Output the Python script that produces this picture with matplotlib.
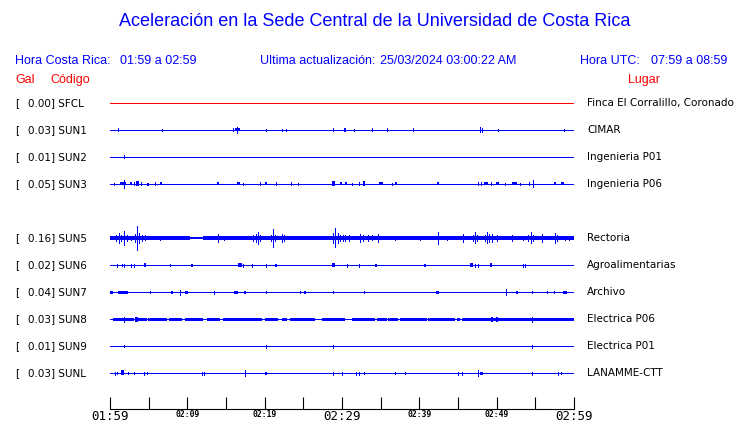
import matplotlib
matplotlib.use('Agg')
import matplotlib.pyplot as plt
from matplotlib import transforms

# stations (SUN4 has no trace, its slot stays empty)
codes = ['SFCL', 'SUN1', 'SUN2', 'SUN3', 'SUN5', 'SUN6', 'SUN7', 'SUN8', 'SUN9', 'SUNL']
gal = [0.00, 0.03, 0.01, 0.05, 0.16, 0.02, 0.04, 0.03, 0.01, 0.03]
places = ['Finca El Corralillo, Coronado', 'CIMAR', 'Ingenieria P01', 'Ingenieria P06',
          'Rectoria', 'Agroalimentarias', 'Archivo', 'Electrica P06', 'Electrica P01',
          'LANAMME-CTT']
rows = [0, 1, 2, 3, 5, 6, 7, 8, 9, 10]

tick_minutes = [0, 5, 10, 15, 20, 25, 30, 35, 40, 45, 50, 55, 60]
tick_labels = ['01:59', '', '02:09', '', '02:19', '', '02:29', '', '02:39', '', '02:49', '', '02:59']

# events: (minute after 01:59, half amplitude, duration in minutes)
sfcl = []
sun1 = [(1.07, 1.5, 0), (6.76, 1, 0), (15.87, 1.5, 0), (16.46, 1.5, 0.6), (16.46, 2.7, 0),
        (20.13, 1, 0), (22.28, 1, 0), (22.8, 1, 0), (28.88, 1.5, 0), (30.22, 1.5, 0),
        (30.39, 1.5, 0), (31.59, 1, 0), (33.92, 1.5, 0), (35.86, 1.5, 0), (39.22, 1.5, 0),
        (47.85, 2.5, 0), (48.07, 2, 0), (50.21, 1, 0), (58.75, 1, 0)]
sun2 = [(1.85, 1.5, 0)]
sun3 = [(0.56, 1, 0), (1.66, 1.5, 0.74), (1.85, 4, 0), (2.72, 1.5, 0.26), (3.14, 1.5, 0),
        (3.58, 2.5, 0.39), (4.01, 1.5, 0), (4.75, 1, 0), (4.95, 1, 0), (5.82, 1.5, 0),
        (6.59, 1.5, 0.26), (13.93, 1.5, 0.26), (16.59, 1.5, 0.39), (17.24, 1, 0),
        (19.43, 1.5, 0), (20.17, 1.5, 0.26), (21.47, 1.5, 0), (23.44, 1.5, 0), (24.35, 1, 0),
        (28.88, 2.5, 0.39), (29.83, 1.5, 0.26), (30.52, 1.5, 0.26), (31.25, 1, 0),
        (32.2, 1.5, 0), (32.84, 2.5, 0.26), (35.08, 1.5, 0.52), (36.43, 1, 0),
        (36.98, 1.5, 0.26), (42.37, 1.5, 0.26), (47.63, 1.5, 0), (47.97, 1.5, 0),
        (48.62, 1.5, 0.39), (49.27, 1.5, 0), (50.08, 1.5, 0.39), (51.08, 1, 0),
        (52.27, 1.5, 0.65), (53.02, 1, 0), (54.14, 1.5, 0), (54.66, 3.5, 0),
        (57.54, 1.5, 0.26), (58.54, 1.5, 0.39)]
sun5 = [(0.78, 3, 0), (1.16, 5, 0), (1.42, 3, 0), (1.85, 7, 0), (2.2, 3, 0), (2.72, 2, 0),
        (3.23, 4, 0), (3.53, 12, 0), (3.81, 5, 0), (4.14, 3, 0), (4.53, 2.5, 0), (6.47, 2, 0),
        (14.0, 4, 0), (14.74, 2, 0), (18.49, 3, 0), (18.88, 4, 0), (19.18, 6, 0),
        (19.46, 3, 0), (20.82, 3, 0), (21.12, 9, 0), (21.4, 3, 0), (22.2, 4, 0),
        (22.5, 3, 0), (28.84, 5, 0), (29.09, 9.5, 0), (29.42, 5, 0), (29.74, 3, 0),
        (30.13, 3, 0), (30.39, 3, 0), (30.91, 3, 0), (32.33, 4, 0), (32.72, 3, 0),
        (33.36, 3, 0), (33.88, 2.5, 0), (34.69, 4, 0), (36.85, 2, 0), (40.09, 2, 0),
        (42.45, 6, 0), (43.54, 2, 0), (45.68, 4, 0), (46.94, 3, 0), (47.2, 5.5, 0),
        (47.46, 3, 0), (48.49, 3, 0), (48.71, 5.5, 0), (49.01, 4, 0), (49.36, 4, 0),
        (50.0, 3, 0), (51.94, 3, 0), (53.44, 2, 0), (54.05, 3, 0), (54.4, 5.5, 0),
        (54.7, 3, 0), (55.82, 4, 0), (57.54, 5, 0), (57.8, 3, 0), (58.84, 2, 0),
        (59.35, 2, 0)]
sun6 = [(0.94, 1.5, 0), (1.59, 1, 0), (1.85, 1.5, 0), (2.72, 1.5, 0), (3.14, 1.5, 0),
        (4.53, 1.7, 0.26), (7.8, 1, 0), (10.56, 1.5, 0.26), (16.77, 1.7, 0.52),
        (17.24, 1.5, 0), (18.32, 1.5, 0), (20.13, 1.5, 0), (21.47, 1.5, 0.26),
        (28.88, 1.7, 0.39), (30.69, 1.5, 0), (32.24, 1.5, 0), (34.4, 1.5, 0.26),
        (40.73, 1.5, 0.26), (46.77, 1.7, 0.39), (47.24, 1.5, 0), (47.55, 1.5, 0),
        (49.27, 2, 0.26), (53.37, 1.5, 0), (53.66, 1.5, 0)]
sun7 = [(0.13, 1.5, 0.39), (1.68, 1.5, 1.37), (5.17, 0.7, 0), (7.98, 1.5, 0.26),
        (9.09, 2.5, 0), (9.92, 1.5, 0.39), (13.41, 1.5, 0), (16.27, 1.5, 0.48),
        (17.46, 1.5, 0.26), (20.13, 1, 0), (24.61, 0.7, 0), (25.25, 1.5, 0.26),
        (28.88, 1, 0), (32.89, 1, 0), (42.32, 1.5, 0.39), (51.17, 3, 0), (52.59, 1.5, 0.26),
        (54.61, 1, 0), (56.55, 0.7, 0), (57.45, 0.7, 0), (58.8, 1.5, 0.52)]
sun8 = [(1.85, 2.5, 0), (3.43, 2.5, 0.39), (49.36, 2.5, 0.26), (50.08, 2.5, 0.26),
        (54.61, 2.5, 0)]
sun9 = [(1.85, 1, 0), (20.13, 1.5, 0), (28.88, 1.5, 0), (54.61, 1.5, 0)]
sunl = [(0.65, 1.5, 0), (0.91, 1, 0), (1.64, 2.5, 0.39), (2.28, 1, 0), (3.14, 1, 0),
        (4.44, 1.5, 0), (4.83, 1, 0), (11.94, 1.5, 0), (12.16, 1.5, 0), (17.46, 2.5, 0),
        (20.13, 1.5, 0.26), (28.88, 1.5, 0), (30.04, 1.5, 0), (31.77, 1.5, 0),
        (32.2, 1.5, 0), (32.89, 1, 0), (36.85, 1, 0), (38.19, 1, 0), (45.04, 1.5, 0),
        (45.56, 1.5, 0), (47.63, 2.5, 0), (48.01, 1.5, 0.39), (54.61, 1.5, 0),
        (57.97, 1.5, 0), (58.36, 1, 0)]
events = [sfcl, sun1, sun2, sun3, sun5, sun6, sun7, sun8, sun9, sunl]

# stretches of continuous background noise (start, end minute, half amplitude)
sun5_band = [(0.0, 10.34, 2), (10.34, 12.03, 1), (12.03, 60.0, 2)]
sun8_band = [(0.43, 1.85, 1.5), (1.94, 3.14, 1.5), (3.32, 4.75, 1.5), (4.95, 7.33, 1.5),
             (7.63, 9.27, 1.5), (9.7, 12.07, 1.5), (12.5, 14.22, 1.5), (14.65, 19.62, 1.5),
             (20.04, 21.76, 1.5), (22.2, 22.85, 1.5), (23.28, 26.51, 1.5),
             (27.38, 30.39, 1.5), (31.25, 34.27, 1.5), (34.49, 35.78, 1.5),
             (35.99, 37.28, 1.5), (37.5, 40.95, 1.5), (41.16, 44.61, 1.5),
             (44.83, 45.26, 1.5), (45.48, 60.0, 1.5)]
bands = {'SUN5': sun5_band, 'SUN8': sun8_band}

BLUE = '#0000ff'
RED = '#ff0000'
W, H = 740, 423
PX = 1 / 27.0          # one pixel in row units

fig = plt.figure(figsize=(W / 100, H / 100), dpi=100)
ax = fig.add_axes([110 / W, (H - 409) / H, 464 / W, (409 - 90) / H])
ax.set_xlim(0, 60)
ax.set_ylim((409 - 103) / 27, (90 - 103) / 27)

for code, row, ev in zip(codes, rows, events):
    col = RED if code == 'SFCL' else BLUE
    ax.plot([0, 60], [row, row], color=col, lw=0.6, antialiased=False)
    for s, e, a in bands.get(code, []):
        ax.bar((s + e) / 2, 2 * a * PX, bottom=row - a * PX, width=e - s,
               color=col, lw=0, antialiased=False)
    for t, a, d in ev:
        if d > 0:
            ax.bar(t, 2 * a * PX, bottom=row - a * PX, width=d,
                   color=col, lw=0, antialiased=False)
        else:
            ax.vlines(t, row - a * PX, row + a * PX, color=col, lw=0.6, antialiased=False)

for side in ['top', 'left', 'right']:
    ax.spines[side].set_visible(False)
ax.spines['bottom'].set_linewidth(0.8)
ax.set_yticks([])
ax.set_xticks(tick_minutes)
ax.set_xticklabels(tick_labels)
ax.tick_params(axis='x', direction='in', length=9, width=0.8, pad=0.5)
for i, lab in enumerate(ax.get_xticklabels()):
    lab.set_fontfamily('DejaVu Sans Mono')
    if tick_labels[i] in ('01:59', '02:29', '02:59'):
        lab.set_fontsize(9)
    else:
        lab.set_fontsize(5.8)
        lab.set_fontweight('bold')

# station labels
tr = transforms.blended_transform_factory(fig.transFigure, ax.transData)
for code, row, g, place in zip(codes, rows, gal, places):
    ax.text(15 / W, row, '[', transform=tr, va='center', fontsize=7.5, family='DejaVu Sans')
    ax.text(28 / W, row, f'{g:.2f}] {code}', transform=tr, va='center', fontsize=7.5,
            family='DejaVu Sans')
    ax.text(587 / W, row, place, transform=tr, va='center', fontsize=7.5, family='DejaVu Sans')

# header
hf = 'Liberation Sans'
fig.text(375 / W, 1 - 22 / H, 'Aceleración en la Sede Central de la Universidad de Costa Rica',
         ha='center', va='center', color=BLUE, fontsize=13, family=hf)
for x, s in [(15, 'Hora Costa Rica:'), (120, '01:59 a 02:59'), (260, 'Ultima actualización:'),
             (380, '25/03/2024 03:00:22 AM'), (580, 'Hora UTC:'), (651, '07:59 a 08:59')]:
    fig.text(x / W, 1 - 61 / H, s, va='center', color=BLUE, fontsize=9, family=hf)
for x, s in [(15, 'Gal'), (50, 'Código'), (628, 'Lugar')]:
    fig.text(x / W, 1 - 80 / H, s, va='center', color=RED, fontsize=9, family=hf)

fig.savefig('out.png', dpi=100)
